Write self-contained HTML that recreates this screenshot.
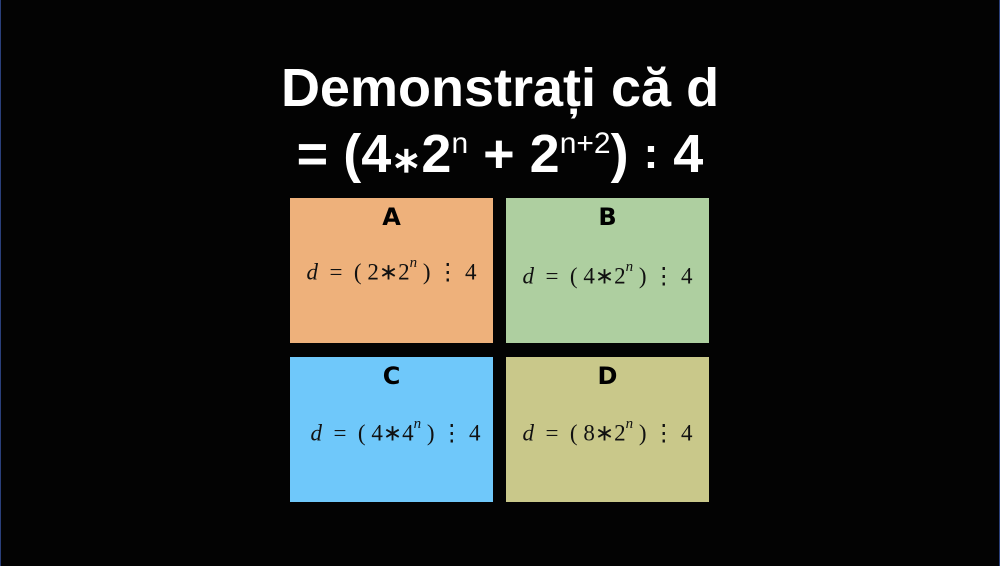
<!DOCTYPE html>
<html><head><meta charset="utf-8"><style>
html,body{margin:0;padding:0;}
body{width:1000px;height:566px;background:#030303;position:relative;overflow:hidden;font-family:"Liberation Sans",sans-serif;}
.edge{position:absolute;top:0;width:1px;height:566px;background:#2a3f7a;}
.t{position:absolute;left:0;width:1000px;text-align:center;color:#fff;font-size:54px;font-weight:bold;line-height:60px;}
.box{position:absolute;width:203px;height:145px;}
.lab{position:absolute;left:0;width:100%;top:5px;text-align:center;font-weight:900;font-size:24px;color:#000;font-family:"DejaVu Sans","Liberation Sans",sans-serif;}
.f{position:absolute;left:0;width:100%;text-align:center;font-family:"Liberation Serif",serif;font-size:23px;color:#111;white-space:pre;}
.f i{font-style:italic;}
.f sup{font-size:15px;font-style:italic;position:relative;top:-4px;}
</style></head><body>
<div class="edge" style="left:0"></div>
<div class="edge" style="left:999px"></div>
<div class="t" style="top:58px">Demonstrați că d</div>
<div class="t" style="top:124px;line-height:60px">= (4<span style="font-size:36px">∗</span>2<sup style="font-size:30px;font-weight:normal;line-height:0">n</sup> + 2<sup style="font-size:30px;font-weight:normal;line-height:0">n+2</sup>) <span style="font-size:44px;position:relative;top:-4px">:</span> 4</div>

<div class="box" style="left:290px;top:198px;background:#eeb17b">
 <div class="lab">A</div>
 <div class="f" style="top:61px;left:0px"><i>d</i>  =  ( 2∗2<sup>n</sup> ) ⋮ 4</div>
</div>
<div class="box" style="left:506px;top:198px;background:#aecfa0">
 <div class="lab">B</div>
 <div class="f" style="top:65px"><i>d</i>  =  ( 4∗2<sup>n</sup> ) ⋮ 4</div>
</div>
<div class="box" style="left:290px;top:357px;background:#6fc8fa">
 <div class="lab">C</div>
 <div class="f" style="top:63px;left:4px"><i>d</i>  =  ( 4∗4<sup>n</sup> ) ⋮ 4</div>
</div>
<div class="box" style="left:506px;top:357px;background:#c9c88a">
 <div class="lab">D</div>
 <div class="f" style="top:63px"><i>d</i>  =  ( 8∗2<sup>n</sup> ) ⋮ 4</div>
</div>
</body></html>
